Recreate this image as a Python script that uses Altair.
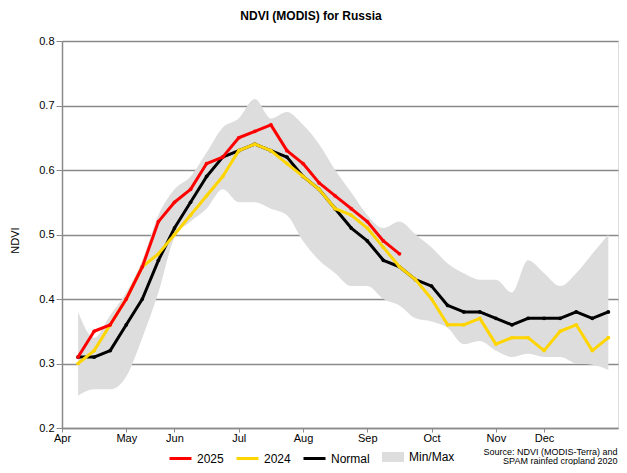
import altair as alt
import pandas as pd

# 8-day composite periods (1 = first composite after the April tick)
period = [1, 2, 3, 4, 5, 6, 7, 8, 9, 10, 11, 12, 13, 14, 15, 16, 17,
          18, 19, 20, 21, 22, 23, 24, 25, 26, 27, 28, 29, 30, 31, 32, 33, 34]

month_labels = ["Apr", "May", "Jun", "Jul", "Aug", "Sep", "Oct", "Nov", "Dec"]
month_pos = [0, 4, 7, 11, 15, 19, 23, 27, 30]

ndvi_2025 = [0.31, 0.35, 0.36, 0.40, 0.45, 0.52, 0.55, 0.57, 0.61, 0.62, 0.65,
             0.66, 0.67, 0.63, 0.61, 0.58, 0.56, 0.54, 0.52, 0.49, 0.47]

ndvi_2024 = [0.30, 0.32, 0.36, 0.40, 0.45, 0.47, 0.50, 0.53, 0.56, 0.59, 0.63,
             0.64, 0.63, 0.61, 0.59, 0.57, 0.54, 0.53, 0.51, 0.48, 0.45, 0.43,
             0.40, 0.36, 0.36, 0.37, 0.33, 0.34, 0.34, 0.32, 0.35, 0.36, 0.32, 0.34]

ndvi_normal = [0.31, 0.31, 0.32, 0.36, 0.40, 0.46, 0.51, 0.55, 0.59, 0.62, 0.63,
               0.64, 0.63, 0.62, 0.59, 0.57, 0.54, 0.51, 0.49, 0.46, 0.45, 0.43,
               0.42, 0.39, 0.38, 0.38, 0.37, 0.36, 0.37, 0.37, 0.37, 0.38, 0.37, 0.38]

ndvi_max = [0.38, 0.34, 0.375, 0.41, 0.46, 0.53, 0.57, 0.59, 0.627, 0.666, 0.68,
            0.71, 0.68, 0.69, 0.67, 0.64, 0.60, 0.565, 0.53, 0.51, 0.52, 0.50,
            0.48, 0.455, 0.44, 0.43, 0.43, 0.41, 0.46, 0.44, 0.42, 0.44, 0.47, 0.50]

ndvi_min = [0.25, 0.26, 0.26, 0.28, 0.34, 0.41, 0.495, 0.52, 0.54, 0.57, 0.55,
            0.55, 0.54, 0.53, 0.49, 0.46, 0.44, 0.42, 0.42, 0.40, 0.39, 0.37,
            0.365, 0.355, 0.33, 0.335, 0.32, 0.31, 0.315, 0.31, 0.31, 0.30, 0.298, 0.29]

series_names = ["2025", "2024", "Normal"]
series_colors = ["#ff0000", "#ffd500", "#000000"]

rows = []
for name, vals in (("Normal", ndvi_normal), ("2024", ndvi_2024), ("2025", ndvi_2025)):
    for p, v in zip(period, vals):
        rows.append({"period": p, "ndvi": v, "series": name})
lines_df = pd.DataFrame(rows)

band_df = pd.DataFrame({"period": period, "lo": ndvi_min, "hi": ndvi_max,
                        "band": ["Min/Max"] * len(period)})

FONT = "Liberation Sans"
GRAY = "#8a8a8a"

label_expr = "[" + ",".join("'%s'" % m for m in month_labels) + "][indexof([" + \
    ",".join(str(p) for p in month_pos) + "], datum.value)]"

x_enc = alt.X(
    "period:Q",
    scale=alt.Scale(domain=[0, 34.6], nice=False, zero=False),
    axis=alt.Axis(
        values=month_pos, labelExpr=label_expr, grid=False, labelFlush=False,
        labelOverlap=False,
        tickSize=4, tickColor=GRAY, domainColor=GRAY, domainWidth=1.5,
        labelFontSize=11, labelPadding=0, labelColor="#000000", labelFont=FONT,
        title=["Source: NDVI (MODIS-Terra) and", "SPAM rainfed cropland 2020"],
        titleFont=FONT, titleFontSize=9, titleFontWeight="normal",
        titleAlign="right", titleAnchor="end", titleX=555, titleY=26,
        titleBaseline="alphabetic", titleLineHeight=9, titleColor="#000000",
    ),
)

y_scale = alt.Scale(domain=[0.2, 0.8], nice=False, zero=False)
y_axis = alt.Axis(
    values=[0.2, 0.3, 0.4, 0.5, 0.6, 0.7, 0.8], format=".1f",
    grid=True, gridColor=GRAY, gridWidth=1.5,
    tickSize=6, tickColor=GRAY, domainColor=GRAY, domainWidth=1.5,
    labelFontSize=11, labelFont=FONT, labelColor="#000000", labelPadding=2,
    title="NDVI", titleFont=FONT, titleFontSize=11, titleFontWeight="normal",
    titleColor="#000000", titleAngle=270, titleX=-47, titleY=199,
    titleAlign="center", titleBaseline="middle",
)

band = alt.Chart(band_df).mark_area(interpolate="monotone", opacity=1).encode(
    x=x_enc,
    y=alt.Y("lo:Q", scale=y_scale, axis=y_axis),
    y2="hi:Q",
    fill=alt.Fill(
        "band:N",
        scale=alt.Scale(domain=["Min/Max"], range=["#dddddd"]),
        legend=alt.Legend(
            title=None, orient="none", legendX=320, legendY=405,
            direction="horizontal", symbolType="M-1,-0.45L1,-0.45L1,0.45L-1,0.45Z",
            symbolSize=484, symbolStrokeWidth=0, labelFontSize=12, labelFont=FONT,
            labelOffset=5, padding=0,
        ),
    ),
)

color = alt.Color(
    "series:N",
    scale=alt.Scale(domain=series_names, range=series_colors),
    legend=alt.Legend(
        title=None, orient="none", legendX=106, legendY=405,
        direction="horizontal", symbolType="stroke", symbolSize=484,
        symbolStrokeWidth=3, labelFontSize=12, labelFont=FONT,
        labelOffset=4, columnPadding=6, gridAlign="none", padding=0,
    ),
)

layers = [band]
for name in ["Normal", "2024", "2025"]:
    base = alt.Chart(lines_df).transform_filter(alt.datum.series == name)
    layers.append(base.mark_line(strokeWidth=3, strokeJoin="round").encode(
        x="period:Q", y="ndvi:Q", color=color))
    layers.append(base.mark_point(filled=True, size=14, opacity=1).encode(
        x="period:Q", y="ndvi:Q", color=color))

chart = alt.layer(*layers).properties(
    width=556, height=387,
    padding={"left": 54, "top": 33, "right": 1, "bottom": 37},
    autosize=alt.AutoSizeParams(type="none"),
    title=alt.Title("NDVI (MODIS) for Russia", font=FONT, fontSize=12,
                    fontWeight="bold", anchor="middle", frame="group",
                    dx=-29, offset=12, color="#000000"),
).configure_view(stroke=GRAY, strokeWidth=1.5).configure(background="white")

chart.save("out.html", embed_options={"renderer": "svg", "actions": False})
